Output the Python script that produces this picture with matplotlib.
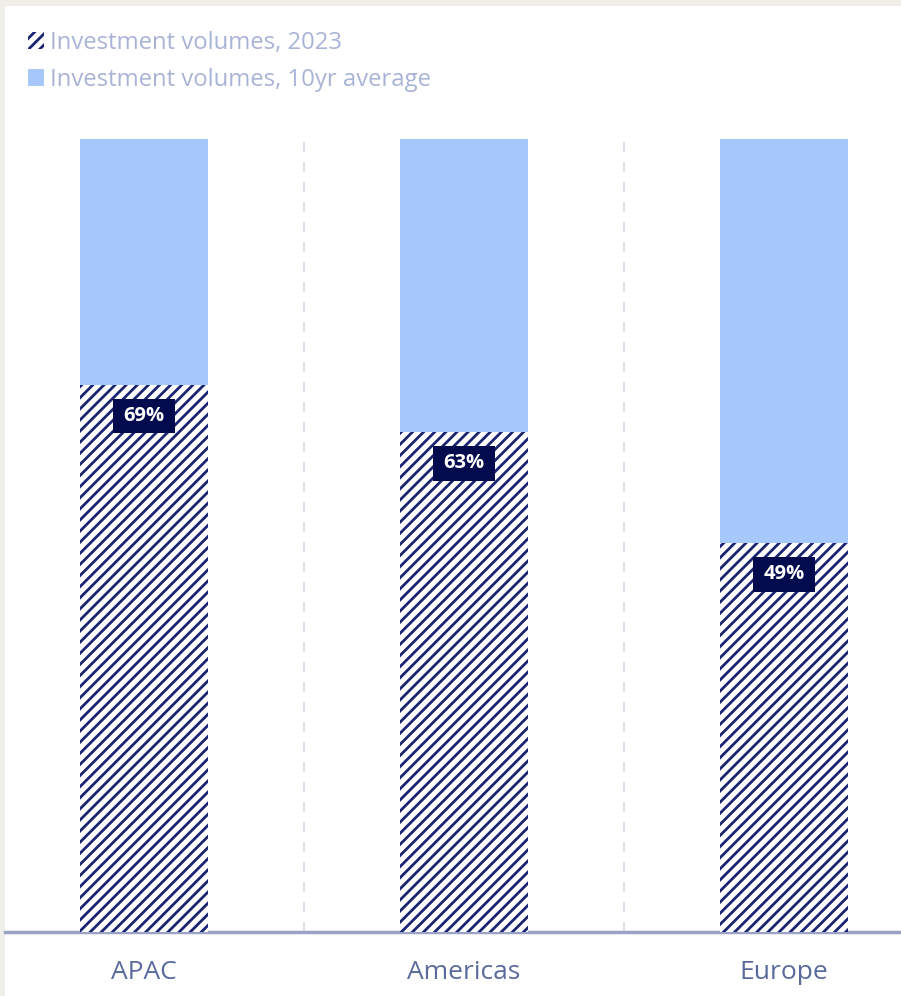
import matplotlib
matplotlib.use("Agg")
import matplotlib.pyplot as plt
from matplotlib.patches import Patch, Rectangle

categories = ["APAC", "Americas", "Europe"]
volumes_2023 = [69, 63, 49]          # % of 10yr average
avg_10yr = [100, 100, 100]
legend_labels = ["Investment volumes, 2023", "Investment volumes, 10yr average"]

NAVY = "#1b2470"
LIGHT = "#a6c8fa"
BOX = "#020b4e"
TICK_COL = "#5b6a9c"
LEG_COL = "#a9b3d6"

plt.rcParams["font.family"] = ["Open Sans", "DejaVu Sans"]
plt.rcParams["hatch.linewidth"] = 2.0

W, H = 901, 996
fig = plt.figure(figsize=(W / 100, H / 100), dpi=100)
fig.patch.set_facecolor("#efeee9")
fig.patches.append(Rectangle((5 / W, 0), 1, 1 - 6 / H, transform=fig.transFigure,
                             facecolor="white", edgecolor="none", zorder=-5))

ax_left, ax_right = 5, 901
ax_bottom_px, ax_top_px = 932, 135
ax = fig.add_axes([ax_left / W, (H - ax_bottom_px) / H,
                   (ax_right - ax_left) / W, (ax_bottom_px - ax_top_px) / H])
ax.patch.set_alpha(0)
ax.set_zorder(2)

x = list(range(len(categories)))
bw = 0.4
ax.bar(x, avg_10yr, width=bw, color=LIGHT, linewidth=0, zorder=2)
ax.bar(x, volumes_2023, width=bw, facecolor="white", edgecolor=NAVY,
       hatch="///", linewidth=0, zorder=3)

for xi, v in zip(x, volumes_2023):
    ax.annotate(f"{v}%", xy=(xi, v), xytext=(0, -31), textcoords="offset pixels",
                ha="center", va="center", color="white", fontsize=14.5,
                fontweight="bold", zorder=5,
                bbox=dict(boxstyle="square,pad=0.5", mutation_aspect=0.72,
                          facecolor=BOX, edgecolor="none"))

for sx in [0.5, 1.5]:
    ax.axvline(sx, color="#d9d9e6", lw=1.2, ls=(0, (6, 6)), zorder=1)

ax.set_xlim(-(144 - ax_left) / 320, 2 + (ax_right - 784) / 320)
ax.set_ylim(0, 100 * (ax_bottom_px - ax_top_px) / (932 - 139))
ax.set_xticks(x)
ax.set_xticklabels(categories, color=TICK_COL, fontsize=19)
ax.tick_params(axis="x", length=0, pad=20)
ax.set_yticks([])
for s in ["top", "right", "left"]:
    ax.spines[s].set_visible(False)
ax.spines["bottom"].set_color("#9aa3c6")
ax.spines["bottom"].set_linewidth(2.5)

handles = [Patch(facecolor="white", edgecolor=NAVY, hatch="///", linewidth=0),
           Patch(facecolor=LIGHT, edgecolor="none")]
leg = fig.legend(handles, legend_labels, loc="upper left",
                 bbox_to_anchor=(18 / W, 1 - 21 / H), frameon=False,
                 handlelength=0.7, handleheight=0.7, handletextpad=0.25,
                 labelspacing=0.55, fontsize=17.2, borderaxespad=0)
for t in leg.get_texts():
    t.set_color(LEG_COL)

fig.savefig("out.png", dpi=100)
